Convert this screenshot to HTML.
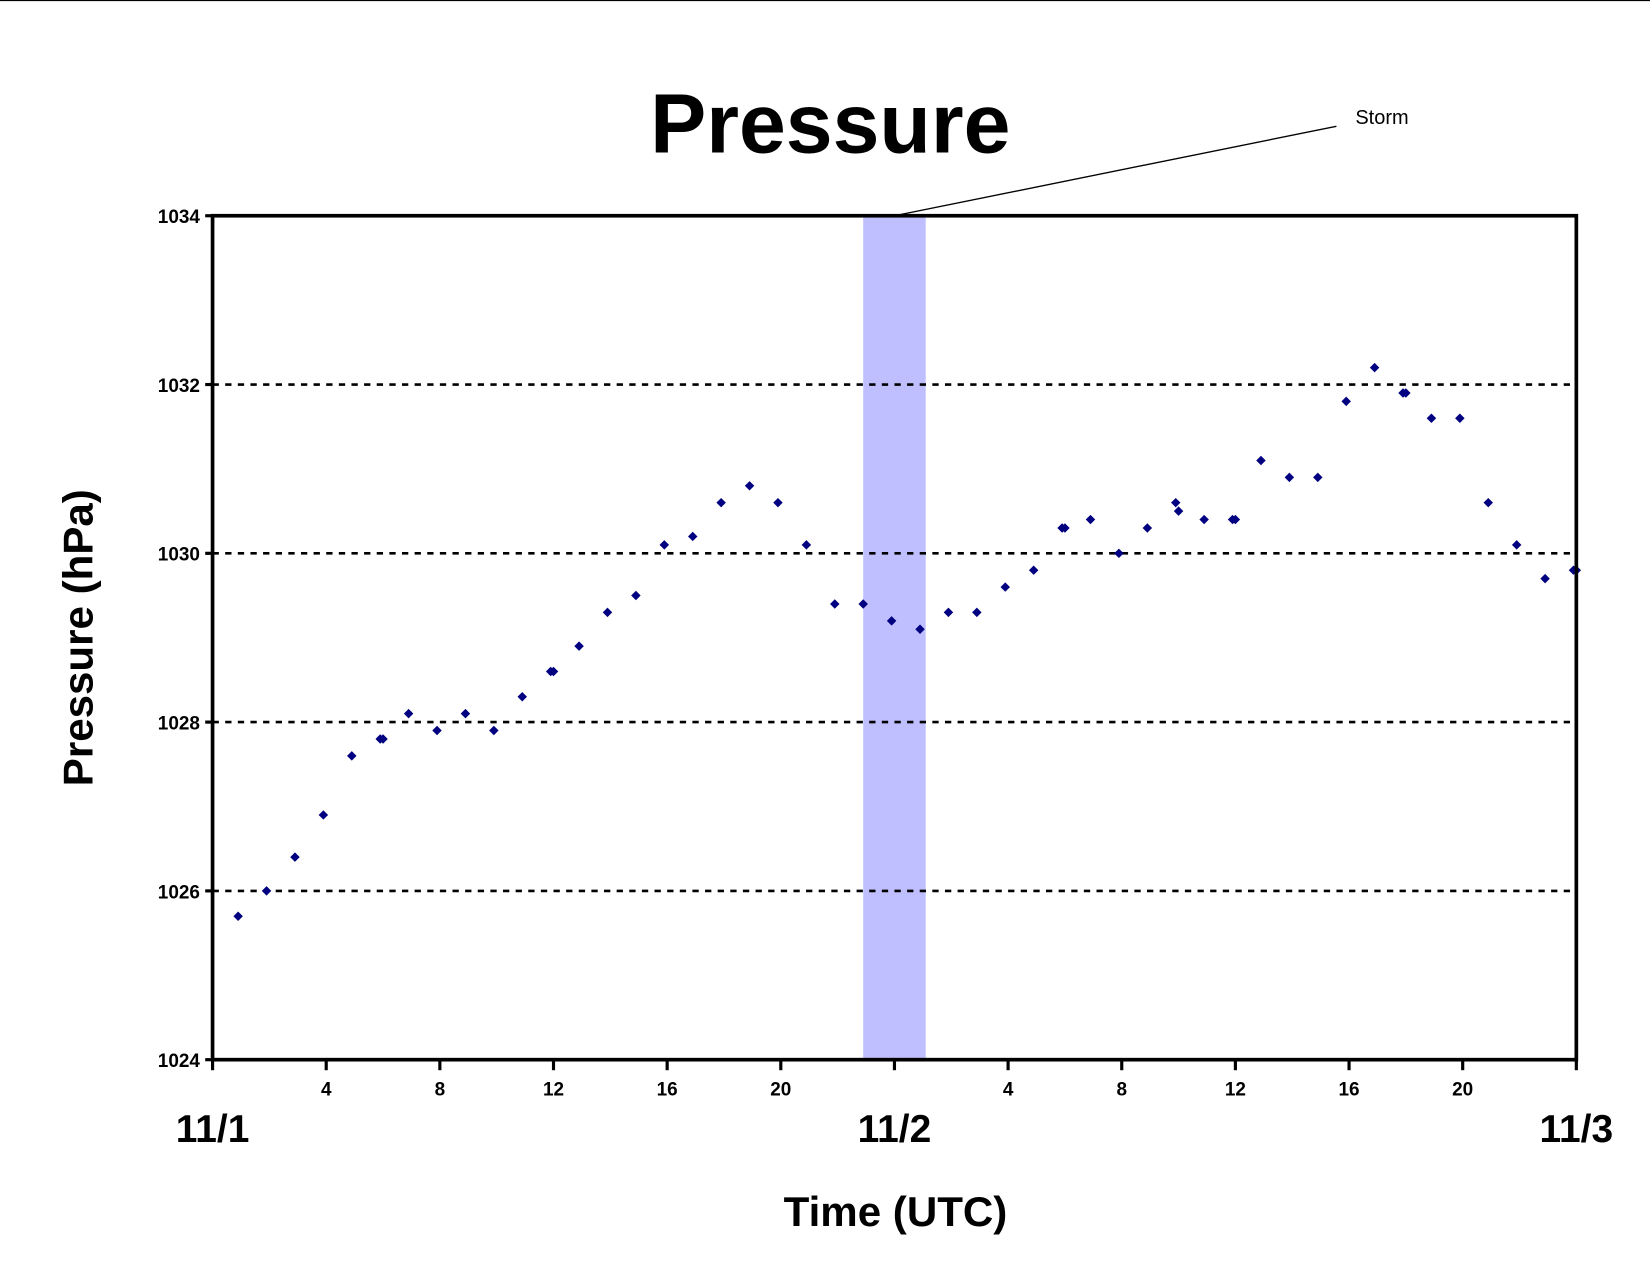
<!DOCTYPE html>
<html><head><meta charset="utf-8"><style>html,body{margin:0;padding:0;background:#fff}svg{display:block}text{font-family:"Liberation Sans",Arial,sans-serif;font-weight:bold}</style></head>
<body>
<svg id="chart" width="1650" height="1275" viewBox="0 0 1568 1211.6" xmlns="http://www.w3.org/2000/svg">
<line x1="0" y1="0.5" x2="1568" y2="0.5" stroke="#000" stroke-width="1"/>
<text x="789" y="145" font-size="80" text-anchor="middle">Pressure</text>
<g id="storm"></g>
<g id="grid"></g>
<g id="points"></g>
<g id="axes"></g>
<text transform="translate(88,606) rotate(-90)" font-size="40" text-anchor="middle">Pressure (hPa)</text>
<text x="851" y="1165" font-size="40" text-anchor="middle">Time (UTC)</text>
<text x="1288" y="118" font-size="19" font-weight="normal" style="font-weight:normal">Storm</text>
</svg>
<script>
const hours=[0.9,1.9,2.9,3.9,4.9,5.9,6.0,6.9,7.9,8.9,9.9,10.9,11.9,12.0,12.9,13.9,14.9,15.9,16.9,17.9,18.9,19.9,20.9,21.9,22.9,23.9,24.9,25.9,26.9,27.9,28.9,29.9,30.0,30.9,31.9,32.9,33.9,34.0,34.9,35.9,36.0,36.9,37.9,38.9,39.9,40.9,41.9,42.0,42.9,43.9,44.9,45.9,46.9,47.9,48.0];
const pressure=[1025.7,1026.0,1026.4,1026.9,1027.6,1027.8,1027.8,1028.1,1027.9,1028.1,1027.9,1028.3,1028.6,1028.6,1028.9,1029.3,1029.5,1030.1,1030.2,1030.6,1030.8,1030.6,1030.1,1029.4,1029.4,1029.2,1029.1,1029.3,1029.3,1029.6,1029.8,1030.3,1030.3,1030.4,1030.0,1030.3,1030.6,1030.5,1030.4,1030.4,1030.4,1031.1,1030.9,1030.9,1031.8,1032.2,1031.9,1031.9,1031.6,1031.6,1030.6,1030.1,1029.7,1029.8,1029.8];
const yTicks=[1024,1026,1028,1030,1032,1034];
const xTickHours=[0,4,8,12,16,20,24,28,32,36,40,44,48];
const xTickLabels=["","4","8","12","16","20","","4","8","12","16","20",""];
const dayHours=[0,24,48];
const dayLabels=["11/1","11/2","11/3"];
const stormRange=[22.9,25.1];
const NS="http://www.w3.org/2000/svg";
const L=202,R=1498,T=205,B=1007;
const xs=h=>L+(h/48)*(R-L);
const ys=p=>B-(p-1024)/10*(B-T);
function mk(tag,attrs,parent){const e=document.createElementNS(NS,tag);for(const k in attrs)e.setAttribute(k,attrs[k]);parent.appendChild(e);return e;}
const storm=document.getElementById('storm'),grid=document.getElementById('grid'),pts=document.getElementById('points'),axes=document.getElementById('axes');
const band=mk('rect',{x:xs(stormRange[0]),y:T,width:xs(stormRange[1])-xs(stormRange[0]),height:B-T,fill:'#bfbfff'},storm);


const pl=mk('line',{x1:(xs(stormRange[0])+xs(stormRange[1]))/2,y1:T,x2:1270,y2:120,stroke:'#000','stroke-width':1.3},storm);


yTicks.forEach(v=>{
  const y=ys(v);
  if(v>1024&&v<1034){const g=mk('line',{x1:L,y1:y,x2:R,y2:y,stroke:'#000','stroke-width':2.5,'stroke-dasharray':'6 6'},grid);
    
    }
  const t=mk('line',{x1:L-7,y1:y,x2:L,y2:y,stroke:'#000','stroke-width':3},axes);
  
  
  const tx=mk('text',{x:L-12,y:y+7,'font-size':18,'text-anchor':'end'},axes);tx.textContent=v;
  
  
});
const frame=mk('rect',{x:L,y:T,width:R-L,height:B-T,fill:'none',stroke:'#000','stroke-width':3.5},axes);


xTickHours.forEach((h,i)=>{
  const x=xs(h);
  const t=mk('line',{x1:x,y1:B,x2:x,y2:B+10,stroke:'#000','stroke-width':3},axes);
  
  
  if(xTickLabels[i]){const tx=mk('text',{x:x,y:B+34,'font-size':18,'text-anchor':'middle'},axes);tx.textContent=xTickLabels[i];
    
    }
});
dayHours.forEach((h,i)=>{
  const tx=mk('text',{x:xs(h),y:1085,'font-size':37,'text-anchor':'middle'},axes);tx.textContent=dayLabels[i];
  
  
});
hours.forEach((h,i)=>{
  const x=xs(h),y=ys(pressure[i]),s=4.5;
  const d=mk('polygon',{points:`${x},${y-s} ${x+s},${y} ${x},${y+s} ${x-s},${y}`,fill:'#000080'},pts);
  
  
});
</script>
</body></html>
